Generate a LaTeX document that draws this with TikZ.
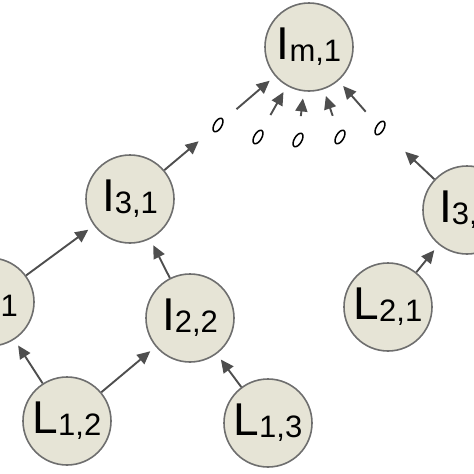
\documentclass[tikz,border=0pt]{standalone}
\usepackage{fontspec}
\setmainfont{Liberation Sans}
\usetikzlibrary{arrows.meta,shapes.geometric}
\definecolor{node-fill}{RGB}{230,228,214}
\definecolor{node-line}{RGB}{110,110,110}
\definecolor{arrow-gray}{RGB}{78,78,78}
\newcommand{\treelabel}[2]{{\fontsize{46}{46}\selectfont #1}\raisebox{-2pt}{\fontsize{31}{31}\selectfont #2}}
\tikzset{
    tree-node/.style = {circle, draw=node-line, fill=node-fill, line width=1.6pt, minimum size=88pt, inner sep=0pt},
    tree-arrow/.style = {draw=arrow-gray, line width=1.9pt, -{Triangle[length=13pt,width=12pt]}, shorten >=7pt},
    gap-dot/.style = {ellipse, draw, line width=1.5pt, minimum width=7.5pt, minimum height=15pt, inner sep=0pt, rotate=-30},
}

\begin{document}
\begin{tikzpicture}[x=1pt, y=-1pt]
\useasboundingbox (0,0) rectangle (474,474);
\clip (0,0) rectangle (474,474);
% tree nodes
\node [tree-node] (i-m1) at (309,47) {\treelabel{I}{m,1}};
\node [tree-node] (i-31) at (130,199) {\treelabel{I}{3,1}};
\node [tree-node] (i-32) at (467,210) {\treelabel{I}{3,2}};
\node [tree-node] (i-21) at (-10,302) {\treelabel{I}{2,1}};
\node [tree-node] (i-22) at (190,318) {\treelabel{I}{2,2}};
\node [tree-node] (l-21) at (388,307) {\treelabel{L}{2,1}};
\node [tree-node] (l-12) at (67,421) {\treelabel{L}{1,2}};
\node [tree-node] (l-13) at (268,423) {\treelabel{L}{1,3}};
% gap marks
\node [gap-dot] (dot-1) at (218,125) {};
\node [gap-dot] (dot-2) at (258,137) {};
\node [gap-dot] (dot-3) at (298,140) {};
\node [gap-dot] (dot-4) at (340,137) {};
\node [gap-dot] (dot-5) at (380,128) {};
% arrows
\draw [tree-arrow] (l-12) -- (i-21);
\draw [tree-arrow] (l-12) -- (i-22);
\draw [tree-arrow] (l-13) -- (i-22);
\draw [tree-arrow] (i-21) -- (i-31);
\draw [tree-arrow] (i-22) -- (i-31);
\draw [tree-arrow] (l-21) -- (i-32);
\draw [tree-arrow, shorten >=18pt] (i-31) -- (dot-1);
\draw [tree-arrow, shorten >=30pt] (i-32) -- (dot-5);
\foreach \k in {1,...,5}
    \draw [tree-arrow, shorten <=17pt] (dot-\k) -- (i-m1);
\end{tikzpicture}
\end{document}
